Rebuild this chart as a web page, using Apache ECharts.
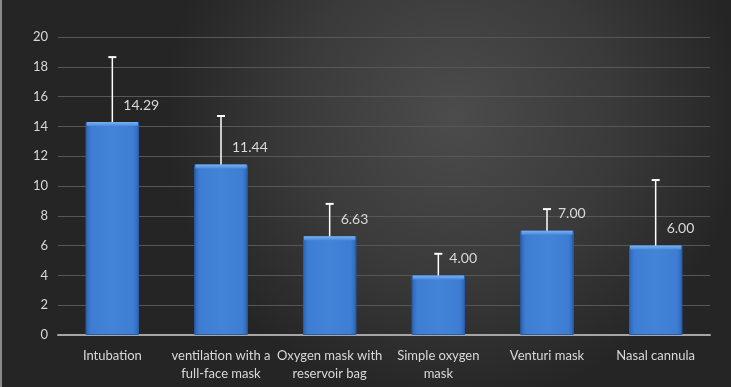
<!DOCTYPE html>
<html><head><meta charset="utf-8">
<script src="https://cdn.jsdelivr.net/npm/echarts@6/dist/echarts.min.js"></script>
<style>html,body{margin:0;padding:0;background:#262626}#c{width:731px;height:387px;box-sizing:border-box;border-left:2px solid #8a8a8a}</style>
</head><body><div id="c"></div>
<script>
var categories = ['Intubation', 'ventilation with a\nfull-face mask', 'Oxygen mask with\nreservoir bag', 'Simple oxygen\nmask', 'Venturi mask', 'Nasal cannula'];
var values = [14.29, 11.44, 6.63, 4.00, 7.00, 6.00];
var errorUpper = [18.65, 14.7, 8.8, 5.45, 8.45, 10.4];
var yTicks = [0, 2, 4, 6, 8, 10, 12, 14, 16, 18, 20];

var chart = echarts.init(document.getElementById('c'));
var font = 'Lato, "Liberation Sans", sans-serif';
chart.setOption({
  backgroundColor: {
    type: 'radial', x: 0.62, y: 0.3, r: 0.75,
    colorStops: [{offset: 0, color: '#4c4c4c'}, {offset: 0.55, color: '#3a3a3a'}, {offset: 1, color: '#252525'}]
  },
  grid: {left: 56, right: 21, top: 37, bottom: 52},
  xAxis: {
    type: 'category', data: categories,
    axisLine: {lineStyle: {color: '#a6a6a6', width: 2}},
    axisTick: {show: false},
    axisLabel: {interval: 0, color: '#d9d9d9', fontFamily: font, fontSize: 13, lineHeight: 18, margin: 12}
  },
  yAxis: {
    type: 'value', min: yTicks[0], max: yTicks[yTicks.length - 1], interval: 2,
    axisLine: {show: false}, axisTick: {show: false},
    splitLine: {lineStyle: {color: '#575757', width: 1}},
    axisLabel: {color: '#d9d9d9', fontFamily: font, fontSize: 13, margin: 10}
  },
  series: [{
    type: 'bar', data: values, barWidth: '49%',
    itemStyle: {
      color: {type: 'linear', x: 0, y: 0, x2: 1, y2: 0,
        colorStops: [{offset: 0, color: '#2e66b4'}, {offset: 0.1, color: '#3d7dd3'}, {offset: 0.5, color: '#4383d8'}, {offset: 0.9, color: '#3d7dd3'}, {offset: 1, color: '#2e66b4'}]},
      borderColor: '#2a5ea8', borderWidth: 1
    },
    z: 2
  }, {
    type: 'custom', z: 5,
    data: values.map(function (v, i) { return [i, v, errorUpper[i]]; }),
    renderItem: function (params, api) {
      var i = api.value(0);
      var top = api.coord([i, api.value(1)]);
      var hi = api.coord([i, api.value(2)]);
      var size = api.size([1, 0]);
      var bw = size[0] * 0.49;
      var x = top[0];
      return {type: 'group', children: [
        {type: 'rect', shape: {x: x - bw / 2 + 1, y: top[1], width: bw - 2, height: 4},
          style: {fill: {type: 'linear', x: 0, y: 0, x2: 0, y2: 1, colorStops: [{offset: 0, color: '#7ab2f2'}, {offset: 1, color: '#4a8ade'}]}}},
        {type: 'line', shape: {x1: x, y1: top[1], x2: x, y2: hi[1]}, style: {stroke: '#ffffff', lineWidth: 1.5}},
        {type: 'line', shape: {x1: x - 4, y1: hi[1], x2: x + 4, y2: hi[1]}, style: {stroke: '#ffffff', lineWidth: 2}},
        {type: 'text', x: x + 11, y: top[1] - 17,
          style: {text: api.value(1).toFixed(2), fill: '#d9d9d9', font: '14px ' + font, textVerticalAlign: 'middle', textAlign: 'left'}}
      ]};
    }
  }]
});
</script></body></html>
